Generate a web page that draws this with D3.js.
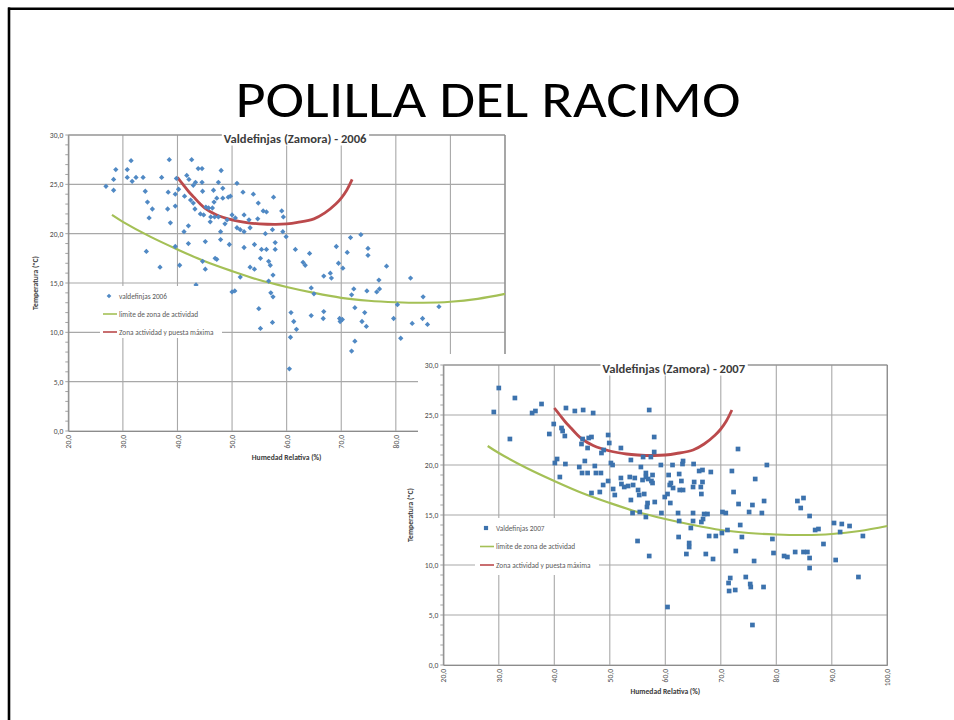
<!DOCTYPE html>
<html>
<head>
<meta charset="utf-8">
<script src="https://cdn.jsdelivr.net/npm/d3@7"></script>
<style>
  html, body { margin: 0; padding: 0; background: #ffffff; }
  svg { display: block; font-family: Carlito, Lato, "Open Sans", sans-serif; }
</style>
</head>
<body>
<svg id="slide" width="954" height="720"></svg>
<script>
// ---- Slide & chart text ----
const slideTitle = "POLILLA DEL RACIMO";
const chartTitles = ["Valdefinjas (Zamora) - 2006", "Valdefinjas (Zamora) - 2007"];
const seriesNames2006 = ["valdefinjas 2006", "limite de zona de actividad", "Zona actividad y puesta máxima"];
const seriesNames2007 = ["Valdefinjas 2007", "limite de zona de actividad", "Zona actividad y puesta máxima"];
const xAxisTitle = "Humedad Relativa (%)";
const yAxisTitle = "Temperatura (ºC)";

// ---- Axis ticks ----
const xTickValues = [20, 30, 40, 50, 60, 70, 80, 90, 100];
const yTickValues = [0, 5, 10, 15, 20, 25, 30];

// ---- Observations: [relative humidity %, temperature ºC] ----
const points2006 = [
  [26.9,24.8],[28.3,25.5],[28.3,24.4],[28.7,26.5],[30.8,26.5],[30.8,25.7],[31.5,27.4],[31.7,25.3],[32.4,25.7],[33.7,25.7],
  [34.1,24.3],[34.5,23.2],[35.4,22.5],[34.8,21.6],[34.3,18.2],[36.8,16.6],[37.1,25.7],[38.3,24.2],[38.5,27.5],[38.2,22.5],
  [38.7,21.1],[39.6,22.8],[39.6,24.0],[39.8,25.6],[40.2,24.5],[39.6,18.7],[40.4,16.8],[41.2,20.2],[42.0,20.8],[42.0,19.0],
  [41.7,25.9],[42.1,25.5],[42.6,27.5],[42.9,24.9],[43.3,25.2],[41.3,23.8],[42.4,23.4],[42.9,23.1],[43.2,22.5],[43.8,26.6],
  [44.5,26.6],[44.5,25.2],[44.6,24.3],[44.2,22.0],[44.8,21.9],[45.2,22.7],[45.7,22.6],[46.1,21.7],[46.4,22.6],[46.0,21.2],
  [46.6,24.4],[46.7,23.2],[47.2,23.6],[47.5,25.2],[48.0,26.4],[48.3,24.6],[46.8,21.7],[47.5,21.7],[47.9,20.2],[47.9,19.4],
  [46.9,17.5],[47.2,17.4],[45.1,19.2],[44.6,17.2],[45.1,16.4],[43.4,14.8],[48.3,23.6],[48.7,21.0],[49.1,21.4],[49.3,23.7],
  [49.7,23.8],[49.5,18.9],[50.0,14.1],[50.5,14.2],[50.0,21.9],[50.6,21.6],[50.9,25.1],[50.9,20.6],[51.5,20.4],[52.0,24.2],
  [52.2,21.9],[52.2,20.2],[52.2,18.6],[51.5,15.6],[53.1,21.4],[53.3,20.6],[53.3,16.6],[53.9,24.0],[54.1,16.4],[54.1,18.9],
  [54.7,21.5],[54.8,23.1],[55.2,17.5],[55.4,18.4],[55.7,22.3],[56.3,22.2],[56.1,20.0],[56.3,18.4],[56.7,17.2],[57.0,16.8],
  [56.7,15.2],[57.1,14.0],[57.5,13.6],[57.5,15.8],[57.6,23.7],[57.4,20.4],[57.9,19.1],[57.9,18.4],[54.9,12.4],[55.2,10.4],
  [57.4,11.0],[59.1,22.3],[59.4,21.7],[59.3,20.2],[59.9,19.7],[60.5,6.3],[60.8,12.0],[60.7,9.5],[61.3,11.1],[61.8,10.3],
  [61.6,18.4],[63.0,17.1],[63.4,16.8],[64.2,18.0],[64.5,14.5],[65.0,13.9],[64.5,11.7],[66.8,15.7],[66.8,12.1],[66.7,11.4],
  [68.0,16.0],[68.2,15.5],[69.1,18.7],[69.5,17.0],[70.3,16.5],[69.7,11.4],[69.8,11.1],[70.2,11.3],[71.1,18.1],[71.7,19.6],
  [73.6,19.9],[71.9,13.8],[72.3,14.4],[72.5,12.5],[72.5,9.1],[71.9,8.1],[74.3,12.0],[73.8,11.1],[74.6,10.6],[74.7,14.2],
  [74.9,18.5],[74.9,17.8],[76.5,14.1],[76.9,15.3],[77.0,14.4],[78.3,16.7],[79.6,11.4],[80.3,12.8],[80.9,9.4],[82.7,15.5],
  [83.0,10.9],[85.0,13.6],[84.9,11.4],[85.8,10.8],[87.9,12.6]
];

const points2007 = [
  [29.1,25.3],[30.0,27.7],[32.0,22.6],[32.9,26.7],[36.0,25.2],[36.6,25.4],[37.7,26.1],[39.1,23.1],[39.9,24.1],[40.1,20.2],
  [40.5,20.6],[41.0,18.8],[41.3,23.7],[41.5,23.4],[41.9,22.9],[42.0,20.1],[42.1,25.7],[43.7,25.4],[45.2,25.5],[47.0,25.2],
  [44.5,19.8],[44.9,22.1],[45.1,22.6],[45.0,19.2],[45.5,20.4],[46.0,19.2],[46.0,21.7],[46.2,22.7],[46.7,22.8],[46.7,17.2],
  [47.3,19.9],[47.5,19.2],[48.2,17.3],[48.4,19.2],[48.5,21.2],[48.8,18.0],[48.9,21.5],[49.7,23.0],[49.9,22.2],[49.7,18.4],
  [50.2,20.2],[50.5,20.0],[50.6,17.6],[50.9,17.0],[52.0,21.7],[52.0,18.7],[52.1,18.1],[52.6,17.8],[53.3,17.9],[53.6,18.8],
  [53.8,20.5],[53.8,16.5],[54.1,15.2],[54.2,18.0],[54.5,18.7],[55.0,12.4],[55.1,17.5],[55.3,17.0],[55.4,15.3],[55.6,19.8],
  [55.9,18.5],[56.0,20.8],[56.2,17.1],[56.5,19.2],[56.5,18.8],[56.7,15.8],[56.8,16.2],[56.5,14.8],[56.9,18.6],[57.1,25.5],
  [57.1,10.9],[57.4,20.8],[57.5,18.4],[57.7,18.2],[57.7,19.0],[58.0,22.8],[58.0,21.3],[58.1,16.3],[59.2,20.0],[59.3,15.2],
  [59.9,16.8],[60.4,5.8],[60.4,17.1],[60.6,19.0],[60.8,18.0],[60.9,16.2],[61.0,18.2],[61.3,20.0],[61.4,17.7],[62.3,15.2],
  [62.4,12.8],[62.5,19.1],[62.5,14.4],[62.6,17.5],[62.9,18.4],[63.1,20.1],[63.2,17.5],[63.2,20.4],[63.8,11.1],[64.3,12.2],
  [64.3,11.8],[64.6,13.7],[65.0,14.4],[65.0,15.2],[65.0,17.8],[65.2,18.3],[65.1,20.1],[66.1,19.4],[66.4,17.8],[66.5,17.1],
  [66.5,14.3],[66.7,19.5],[66.7,18.3],[66.8,14.6],[67.0,15.1],[67.3,11.1],[67.6,15.1],[67.9,12.9],[68.2,19.3],[68.6,10.6],
  [69.1,12.9],[70.2,13.2],[70.3,15.3],[70.9,15.2],[71.2,13.5],[71.4,8.2],[71.5,7.4],[71.7,8.7],[72.0,19.4],[72.3,17.3],
  [72.6,7.5],[72.7,11.4],[73.1,21.6],[73.2,16.1],[73.5,14.0],[73.8,12.8],[74.5,8.8],[75.1,15.3],[75.3,8.1],[75.4,7.8],
  [75.7,4.0],[75.7,16.0],[76.0,10.4],[76.2,18.6],[77.4,15.2],[77.7,7.8],[77.8,16.4],[78.3,20.0],[79.3,12.6],[79.5,11.2],
  [81.4,10.9],[82.0,10.8],[83.4,11.3],[83.8,16.4],[84.4,15.7],[84.9,16.7],[84.9,11.3],[85.6,11.3],[86.0,14.9],[86.0,9.7],
  [86.0,10.7],[87.0,13.5],[87.6,13.6],[88.5,12.1],[90.4,14.2],[90.7,10.5],[91.5,13.3],[91.8,14.1],[93.2,13.9],[94.8,8.8],
  [95.6,12.9]
];

// ---- Reference curves (same in both years) ----
const limitHum  = [28, 30, 35, 40, 45, 50, 55, 60, 65, 70, 75, 80, 85, 90, 95, 100];
const limitTemp = [21.9, 21.2, 19.7, 18.4, 17.2, 16.2, 15.3, 14.6, 14.0, 13.5, 13.2, 13.05, 13.0, 13.1, 13.4, 13.9];
const zoneHum   = [40, 41, 42, 43, 44, 45, 47, 50, 53, 55, 58, 60, 62, 65, 67, 69, 70, 71, 72];
const zoneTemp  = [25.7, 25.0, 24.3, 23.7, 23.1, 22.6, 21.95, 21.4, 21.1, 21.0, 20.95, 21.0, 21.15, 21.5, 22.1, 23.0, 23.6, 24.4, 25.5];

// ---- Styling ----
const GRID = "#a8a8a8";
const AXIS = "#8c8c8c";
const LABEL = "#4d4d4d";
const GREEN = "#a4c056";
const RED = "#bb4a4c";

const esLocale = d3.formatLocale({ decimal: ",", thousands: ".", grouping: [3], currency: ["", " €"] });
const fmt = esLocale.format(".1f");

const svg = d3.select("#slide");

// Slide frame and heading
svg.append("line").attr("x1", 8).attr("x2", 954).attr("y1", 8.8).attr("y2", 8.8)
  .attr("stroke", "#000").attr("stroke-width", 2.6);
svg.append("line").attr("x1", 9).attr("x2", 9).attr("y1", 7.5).attr("y2", 720)
  .attr("stroke", "#000").attr("stroke-width", 2.6);
svg.append("text").attr("x", 488).attr("y", 117)
  .attr("text-anchor", "middle").attr("font-size", 52).attr("fill", "#000")
  .attr("textLength", 505).attr("lengthAdjust", "spacingAndGlyphs")
  .text(slideTitle);

function drawChart(box, cfg) {
  const g = svg.append("g");
  const x = d3.scaleLinear().domain([20, 100]).range([box.left, box.right]);
  const y = d3.scaleLinear().domain([0, 30]).range([box.bottom, box.top]);

  // gridlines
  g.append("g").selectAll("line").data(xTickValues).join("line")
    .attr("x1", d => x(d)).attr("x2", d => x(d))
    .attr("y1", box.top).attr("y2", box.bottom)
    .attr("stroke", GRID).attr("stroke-width", 1.1);
  g.append("g").selectAll("line").data(yTickValues).join("line")
    .attr("x1", box.left).attr("x2", box.right)
    .attr("y1", d => y(d)).attr("y2", d => y(d))
    .attr("stroke", GRID).attr("stroke-width", 1.1);

  // minor ticks on the value axis
  g.append("g").selectAll("line").data(d3.range(0, 31, 1)).join("line")
    .attr("x1", box.left - 3).attr("x2", box.left)
    .attr("y1", d => y(d)).attr("y2", d => y(d))
    .attr("stroke", AXIS).attr("stroke-width", 0.8);

  // y axis
  const yAxis = g.append("g").attr("transform", `translate(${box.left},0)`)
    .call(d3.axisLeft(y).tickValues(yTickValues).tickFormat(fmt).tickSize(0).tickPadding(5));
  yAxis.select(".domain").attr("stroke", AXIS).attr("stroke-width", 1.2);
  yAxis.selectAll("text").attr("font-size", 7.6).attr("fill", LABEL)
    .attr("font-family", "Carlito, Lato, sans-serif");

  // x axis with vertical labels
  const xAxis = g.append("g").attr("transform", `translate(0,${box.bottom})`)
    .call(d3.axisBottom(x).tickValues(xTickValues).tickFormat(fmt).tickSize(0));
  xAxis.select(".domain").attr("stroke", AXIS).attr("stroke-width", 1.2);
  xAxis.selectAll("text")
    .attr("transform", "rotate(-90)")
    .attr("text-anchor", "end")
    .attr("x", -4).attr("y", 0).attr("dy", "0.35em")
    .attr("font-size", 7.6).attr("fill", LABEL)
    .attr("font-family", "Carlito, Lato, sans-serif");

  // right & top border
  g.append("line").attr("x1", box.right).attr("x2", box.right).attr("y1", box.top).attr("y2", box.bottom)
    .attr("stroke", AXIS).attr("stroke-width", 1.2);
  g.append("line").attr("x1", box.left).attr("x2", box.right).attr("y1", box.top).attr("y2", box.top)
    .attr("stroke", AXIS).attr("stroke-width", 1.2);

  // axis titles
  const cx = (box.left + box.right) / 2, cy = (box.top + box.bottom) / 2;
  g.append("text").attr("x", cx).attr("y", box.bottom + cfg.xTitleOffset)
    .attr("text-anchor", "middle").attr("font-size", 7.6).attr("font-weight", "bold")
    .attr("fill", "#3a3a3a").text(xAxisTitle);
  g.append("text").attr("transform", `translate(${box.left - cfg.yTitleOffset},${cy}) rotate(-90)`)
    .attr("text-anchor", "middle").attr("font-size", 7.6).attr("font-weight", "bold")
    .attr("fill", "#3a3a3a").text(yAxisTitle);

  // reference curves
  const line = d3.line().x(d => x(d[0])).y(d => y(d[1])).curve(d3.curveCatmullRom.alpha(0.5));
  g.append("path").datum(d3.zip(limitHum, limitTemp)).attr("d", line)
    .attr("fill", "none").attr("stroke", GREEN).attr("stroke-width", 2.2);
  g.append("path").datum(d3.zip(zoneHum, zoneTemp)).attr("d", line)
    .attr("fill", "none").attr("stroke", RED).attr("stroke-width", 2.8);

  // observations
  const sym = d3.symbol().type(d3.symbolSquare).size(cfg.markerSize);
  g.append("g").selectAll("path").data(cfg.points).join("path")
    .attr("d", sym)
    .attr("transform", d => `translate(${x(d[0])},${y(d[1])})` + (cfg.diamond ? " rotate(45)" : ""))
    .attr("fill", cfg.markerColor);

  // chart title over a white band
  const title = g.append("text").attr("x", cx + 8.5).attr("y", box.top + 7.5)
    .attr("text-anchor", "middle").attr("font-size", 12.6).attr("font-weight", "bold")
    .attr("fill", "#3c3c3c").text(cfg.title);
  const tb = title.node().getBBox();
  g.insert("rect", () => title.node())
    .attr("x", tb.x - 2).attr("y", tb.y).attr("width", tb.width + 4).attr("height", tb.height)
    .attr("fill", "#fff");

  // legend
  const lg = g.append("g").attr("transform", `translate(${cfg.legend.x},${cfg.legend.y})`);
  lg.append("rect").attr("x", 0).attr("y", 0).attr("width", cfg.legend.w).attr("height", cfg.legend.h)
    .attr("fill", "#fff");
  const rows = [
    { name: cfg.names[0], kind: "marker" },
    { name: cfg.names[1], kind: "line", color: GREEN, w: 1.6 },
    { name: cfg.names[2], kind: "line", color: RED, w: 1.6 }
  ];
  rows.forEach((r, i) => {
    const ry = cfg.legend.row0 + i * cfg.legend.step;
    if (r.kind === "marker") {
      lg.append("path").attr("d", d3.symbol().type(d3.symbolSquare).size(cfg.markerSize * 0.8))
        .attr("transform", `translate(${cfg.legend.mark},${ry})` + (cfg.diamond ? " rotate(45)" : ""))
        .attr("fill", cfg.markerColor);
    } else {
      lg.append("line").attr("x1", cfg.legend.mark - 6).attr("x2", cfg.legend.mark + 8)
        .attr("y1", ry).attr("y2", ry).attr("stroke", r.color).attr("stroke-width", r.w);
    }
    lg.append("text").attr("x", cfg.legend.text).attr("y", ry).attr("dy", "0.35em")
      .attr("font-size", 7.3).attr("fill", "#5a5a5a").text(r.name);
  });
}

// 2006 chart
drawChart({ left: 68.3, right: 505, top: 135, bottom: 431 }, {
  title: chartTitles[0], names: seriesNames2006, points: points2006,
  diamond: true, markerSize: 14, markerColor: "#5089c4",
  xTitleOffset: 29, yTitleOffset: 30,
  legend: { x: 100, y: 286, w: 122, h: 52, row0: 10, step: 18, mark: 9, text: 19 }
});

// 2007 chart sits on its own white card, over the lower right of the first one
svg.append("rect").attr("x", 418).attr("y", 354).attr("width", 486).attr("height", 358).attr("fill", "#fff");
drawChart({ left: 443.3, right: 887.3, top: 365, bottom: 665 }, {
  title: chartTitles[1], names: seriesNames2007, points: points2007,
  diamond: false, markerSize: 22, markerColor: "#3c72ad",
  xTitleOffset: 29, yTitleOffset: 30.5,
  legend: { x: 475, y: 518, w: 124, h: 57, row0: 10, step: 18.5, mark: 11, text: 21 }
});
</script>
</body>
</html>
